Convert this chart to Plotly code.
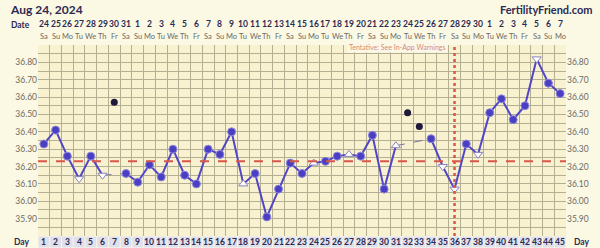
import plotly.graph_objects as go

# ---- data ----
days = list(range(1, 46))
dates = [24, 25, 26, 27, 28, 29, 30, 31] + list(range(1, 31)) + list(range(1, 8))
weekdays_cycle = ["Sa", "Su", "Mo", "Tu", "We", "Th", "Fr"]
weekdays = [weekdays_cycle[i % 7] for i in range(45)]
temps = [36.33, 36.41, 36.26, 36.13, 36.26, 36.15, None, 36.16, 36.11, 36.21,
         36.14, 36.30, 36.15, 36.10, 36.30, 36.27, 36.40, 36.10, 36.16, 35.91,
         36.07, 36.22, 36.16, 36.22, 36.23, 36.26, 36.27, 36.26, 36.38, 36.07,
         36.32, None, None, 36.36, 36.20, 36.07, 36.33, 36.27, 36.51, 36.59,
         36.47, 36.55, 36.82, 36.68, 36.62]
hollow_down = [4, 6, 35, 36, 38, 43]
hollow_up = [18, 24, 27, 31]
discard_days = [7, 32, 33]
discard_temps = [36.57, 36.51, 36.43]
gap_bridges = [(6, 8), (31, 34)]
coverline = 36.23
ovulation_day = 36
y_ticks = [35.90, 36.00, 36.10, 36.20, 36.30, 36.40, 36.50, 36.60, 36.70, 36.80]

# ---- styles ----
PAPER = "#fbf8e4"
PLOT = "#f8f2d0"
GRID = "#b4ae92"
LINE = "#5246c6"
NAVY = "#2c2a52"
GREYTXT = "#6f6b62"
RED = "#d9574a"
FONT = "Lato"

H = 248
T, B = 45, 12
plot_h = H - T - B


def py(pix):
    """pixel row -> paper y"""
    return (H - B - pix) / plot_h


fig = go.Figure()

# dashed bridges over missing days
bx, by = [], []
for a, b in gap_bridges:
    bx += [a, b, None]
    by += [temps[a - 1], temps[b - 1], None]
fig.add_trace(go.Scatter(x=bx, y=by, mode="lines",
                         line=dict(color="#77739e", width=1, dash="dash"),
                         hoverinfo="skip", showlegend=False))

# main line
fig.add_trace(go.Scatter(x=days, y=temps, mode="lines", connectgaps=False,
                         line=dict(color=LINE, width=2), showlegend=False))

# filled markers
fx = [d for d in days if temps[d - 1] is not None and d not in hollow_down and d not in hollow_up]
fy = [temps[d - 1] for d in fx]
fig.add_trace(go.Scatter(x=fx, y=fy, mode="markers",
                         marker=dict(size=8, color="#4a3fc2", line=dict(color="#8f88dc", width=1)),
                         showlegend=False))

# hollow markers
for lst, sym in [(hollow_down, "triangle-down"), (hollow_up, "triangle-up")]:
    fig.add_trace(go.Scatter(x=lst, y=[temps[d - 1] for d in lst], mode="markers",
                             marker=dict(size=8, symbol=sym, color="white",
                                         line=dict(color="#8a84c0", width=1)),
                             showlegend=False))

# discarded temps
fig.add_trace(go.Scatter(x=discard_days, y=discard_temps, mode="markers",
                         marker=dict(size=7, color="#1f1a3c"), showlegend=False))

# right axis dummy trace
fig.add_trace(go.Scatter(x=[None], y=[None], yaxis="y2", showlegend=False))

shapes = []
shapes.append(dict(type="line", xref="paper", yref="y", x0=0, x1=1, y0=coverline, y1=coverline,
                   line=dict(color=RED, width=2, dash="dash"), layer="above"))
shapes.append(dict(type="line", xref="x", yref="paper", x0=ovulation_day, x1=ovulation_day, y0=0, y1=1,
                   line=dict(color=RED, width=2.5, dash="dot"), layer="above"))
for d in days:
    shapes.append(dict(type="rect", xref="x", yref="paper", x0=d - 0.46, x1=d + 0.46,
                       y0=py(247.5), y1=py(236.5), fillcolor="#e0e0ec", line=dict(width=0), layer="below"))

annotations = []
for d, dt, wd in zip(days, dates, weekdays):
    annotations.append(dict(x=d, y=py(24), xref="x", yref="paper", text=f"<b>{dt}</b>", showarrow=False,
                            font=dict(size=8.5, color=NAVY, family=FONT), xanchor="center", yanchor="middle"))
    annotations.append(dict(x=d, y=py(36), xref="x", yref="paper", text=wd, showarrow=False,
                            font=dict(size=7.5, color=GREYTXT, family=FONT), xanchor="center", yanchor="middle"))
    annotations.append(dict(x=d, y=py(241.5), xref="x", yref="paper", text=f"<b>{d}</b>", showarrow=False,
                            font=dict(size=8.5, color=NAVY, family=FONT), xanchor="center", yanchor="middle"))

annotations += [
    dict(x=-0.012, y=py(25), xref="paper", yref="paper", text="<b>Date</b>", showarrow=False,
         font=dict(size=8.5, color=NAVY, family=FONT), xanchor="right", yanchor="middle"),
    dict(x=-0.012, y=py(241.5), xref="paper", yref="paper", text="<b>Day</b>", showarrow=False,
         font=dict(size=8.5, color=NAVY, family=FONT), xanchor="right", yanchor="middle"),
    dict(x=1.012, y=py(241.5), xref="paper", yref="paper", text="<b>Day</b>", showarrow=False,
         font=dict(size=8.5, color=NAVY, family=FONT), xanchor="left", yanchor="middle"),
    dict(x=ovulation_day - 0.55, y=py(47), xref="x", yref="paper", text="Tentative: See In-App Warnings",
         showarrow=False, font=dict(size=7, color="#d98870", family=FONT), xanchor="right",
         yanchor="middle", bgcolor="#fbf8ea"),
    dict(x=1 - 7 / 600 + 34 / 528, y=py(10), xref="paper", yref="paper", text="<b>FertilityFriend.com</b>",
         showarrow=False, font=dict(size=11, color=NAVY, family=FONT), xanchor="right", yanchor="middle"),
    dict(x=-30 / 528, y=py(10), xref="paper", yref="paper", text="<b>Aug 24, 2024</b>",
         showarrow=False, font=dict(size=12, color=NAVY, family=FONT), xanchor="left", yanchor="middle"),
]

fig.update_layout(
    width=600, height=H,
    margin=dict(l=38, r=34, t=T, b=B),
    paper_bgcolor=PAPER, plot_bgcolor=PLOT,
    shapes=shapes, annotations=annotations,
    xaxis=dict(range=[0.5, 45.5], tickvals=[d - 0.5 for d in days] + [45.5], showticklabels=False,
               showgrid=True, gridcolor=GRID, gridwidth=1, zeroline=False, ticks="",
               showline=False, fixedrange=True),
    yaxis=dict(range=[35.80, 36.90], tickvals=y_ticks, ticktext=[f"{v:.2f}" for v in y_ticks],
               showgrid=True, gridcolor=GRID, gridwidth=1, zeroline=False, ticks="",
               minor=dict(dtick=0.05, tick0=35.80, showgrid=True, gridcolor=GRID, gridwidth=1),
               tickfont=dict(size=8.5, color=GREYTXT, family=FONT), showline=False),
    yaxis2=dict(range=[35.80, 36.90], overlaying="y", side="right", tickvals=y_ticks,
                ticktext=[f"{v:.2f}" for v in y_ticks], showgrid=False, zeroline=False, ticks="",
                tickfont=dict(size=8.5, color=GREYTXT, family=FONT)),
)

fig.write_html("out.html")
